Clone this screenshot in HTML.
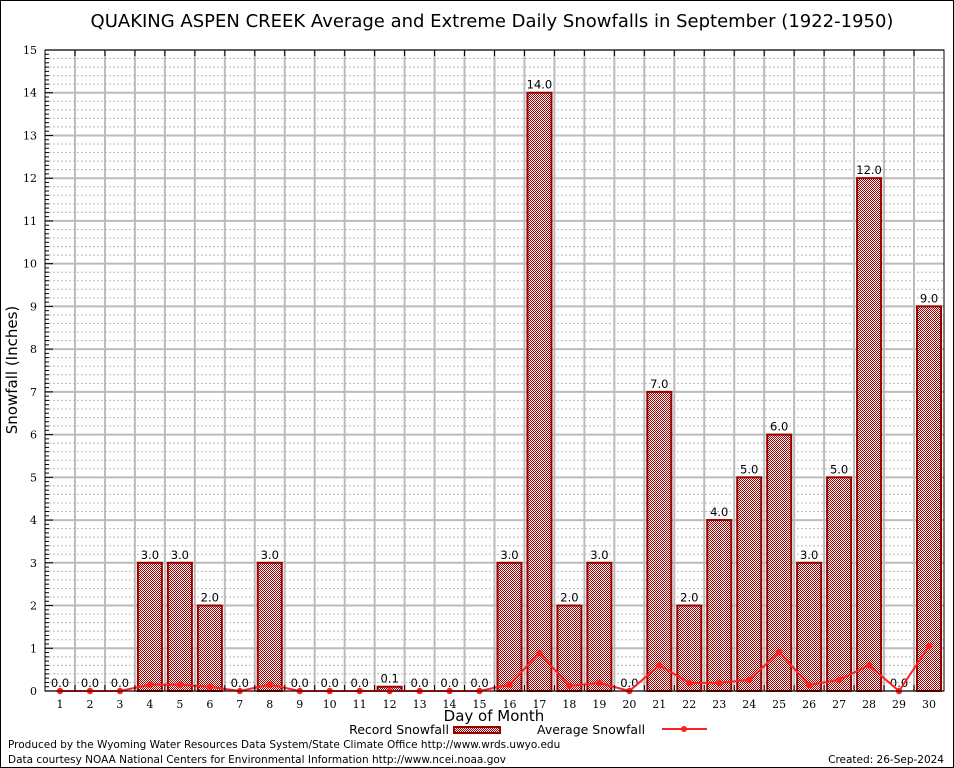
<!DOCTYPE html>
<html><head><meta charset="utf-8"><style>
html,body{margin:0;padding:0;background:#fff;}
svg{display:block;font-family:"DejaVu Sans","Liberation Sans",sans-serif;}
</style></head><body>
<svg id="chart" width="954" height="768" viewBox="0 0 954 768" xmlns="http://www.w3.org/2000/svg">
<defs>
<pattern id="chk" width="2" height="2" patternUnits="userSpaceOnUse">
<rect width="2" height="2" fill="#fff"/><rect width="1" height="1" fill="#a00000"/><rect x="1" y="1" width="1" height="1" fill="#a00000"/>
</pattern>
</defs>
<rect x="0.5" y="0.5" width="953" height="767" fill="#fff" stroke="#000"/>
<text x="492" y="27" font-size="18" text-anchor="middle">QUAKING ASPEN CREEK Average and Extreme Daily Snowfalls in September (1922-1950)</text>
<g id="grid"></g>
<g id="bars"></g>
<g id="line"></g>
<g id="axes"></g>
<text x="17" y="370" font-size="15" text-anchor="middle" transform="rotate(-90 17 370)">Snowfall (Inches)</text>
<text x="494" y="721" font-size="15" text-anchor="middle">Day of Month</text>
<g>
<text x="449" y="734" font-size="12.5" text-anchor="end">Record Snowfall</text>
<rect x="454" y="727" width="46" height="6" fill="url(#chk)" stroke="#990000" stroke-width="2"/>
<text x="537" y="734" font-size="12.5">Average Snowfall</text>
<line x1="662" y1="729" x2="707" y2="729" stroke="#ff2020" stroke-width="2"/>
<circle cx="684" cy="729" r="3" fill="#ff2020"/>
</g>
<text x="8" y="748" font-size="10.5">Produced by the Wyoming Water Resources Data System/State Climate Office http://www.wrds.uwyo.edu</text>
<text x="8" y="763" font-size="10.5">Data courtesy NOAA National Centers for Environmental Information http://www.ncei.noaa.gov</text>
<text x="944" y="763" font-size="10.5" text-anchor="end">Created: 26-Sep-2024</text>
</svg>
<script>
const days = [1,2,3,4,5,6,7,8,9,10,11,12,13,14,15,16,17,18,19,20,21,22,23,24,25,26,27,28,29,30];
const recordSnow = [0,0,0,3,3,2,0,3,0,0,0,0.1,0,0,0,3,14,2,3,0,7,2,4,5,6,3,5,12,0,9];
const avgSnow = [0,0,0,0.15,0.15,0.1,0,0.15,0,0,0,0,0,0,0,0.15,0.89,0.12,0.19,0,0.6,0.19,0.19,0.26,0.91,0.14,0.26,0.6,0,1.05];
const yTicks = [0,1,2,3,4,5,6,7,8,9,10,11,12,13,14,15];
const NS='http://www.w3.org/2000/svg';
const L=45,R=944,T=50,B=691,YMAX=15;
const xs=d=>60+(d-1)*(929-60)/29;
const ys=v=>B-v*(B-T)/YMAX;
function mk(tag,attrs,parent,text){const e=document.createElementNS(NS,tag);for(const k in attrs)e.setAttribute(k,attrs[k]);if(text!==undefined)e.textContent=text;parent.appendChild(e);return e;}
const grid=document.getElementById('grid'),bars=document.getElementById('bars'),line=document.getElementById('line'),axes=document.getElementById('axes');
for(let i=1;i<YMAX*5;i++){if(i%5===0)continue;const y=ys(i/5);const e=mk('line',{x1:L,x2:R,y1:y,y2:y,stroke:'#bbb','stroke-width':1,'stroke-dasharray':'2,2'},grid);

}
yTicks.forEach(v=>{const y=ys(v);const e=mk('line',{x1:L,x2:R,y1:y,y2:y,stroke:'#bbb','stroke-width':2},grid);


const t=mk('text',{x:37,y:y+4,'font-size':11,'text-anchor':'end','font-family':'DejaVu Serif, serif'},axes,String(v));


const tk=mk('line',{x1:L,x2:L+8,y1:y,y2:y,stroke:'#000'},axes);

});
for(let i=1;i<YMAX*10;i++){if(i%10===0)continue;const y=ys(i/10);const tk=mk('line',{x1:L,x2:L+4,y1:y,y2:y,stroke:'#000'},axes);

}
for(let d=1;d<days.length;d++){const x=(xs(d)+xs(d+1))/2;const e=mk('line',{x1:x,x2:x,y1:T,y2:B,stroke:'#bbb','stroke-width':2},grid);


const t1=mk('line',{x1:x,x2:x,y1:T,y2:T+6,stroke:'#000'},axes);


const t2=mk('line',{x1:x,x2:x,y1:B,y2:B-6,stroke:'#000'},axes);

}
const bw=24;
days.forEach((d,i)=>{const v=recordSnow[i];const x=xs(d);
if(v>0){const r=mk('rect',{x:x-bw/2,y:ys(v),width:bw,height:B-ys(v),fill:'url(#chk)',stroke:'#990000','stroke-width':2},bars);

}
const lb=mk('text',{x:x,y:ys(v)-4,'font-size':11.5,'text-anchor':'middle'},bars,v.toFixed(1));


const xl=mk('text',{x:x,y:708,'font-size':11,'text-anchor':'middle','font-family':'DejaVu Serif, serif'},axes,String(d));

});
const pts=days.map((d,i)=>xs(d)+','+ys(avgSnow[i])).join(' ');
const pl=mk('polyline',{points:pts,fill:'none',stroke:'#ff2020','stroke-width':2},line);


days.forEach((d,i)=>{const c=mk('circle',{cx:xs(d),cy:ys(avgSnow[i]),r:3.2,fill:'#ff2020'},line);

});
const fr=mk('rect',{x:L,y:T,width:R-L,height:B-T,fill:'none',stroke:'#000','stroke-width':1},axes);


</script>
</body></html>
